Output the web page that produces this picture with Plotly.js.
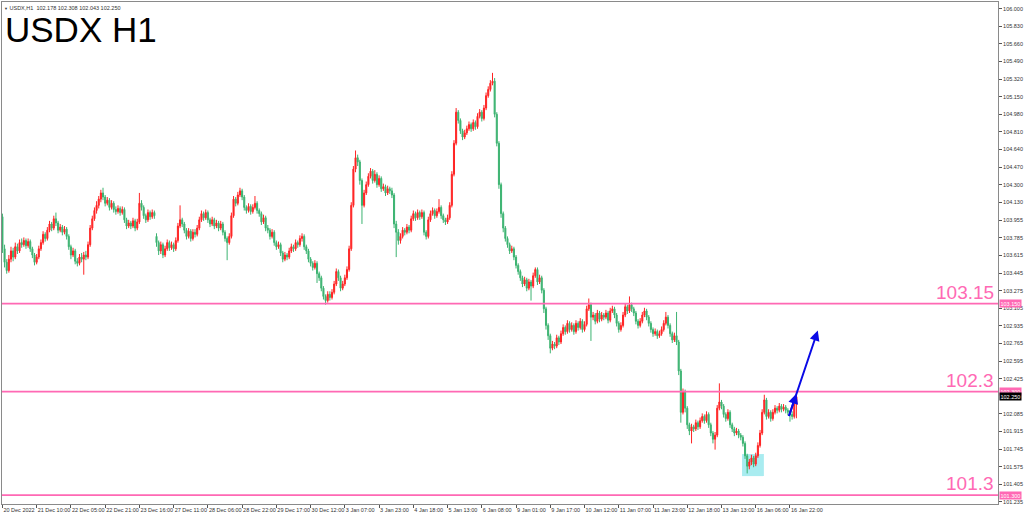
<!DOCTYPE html>
<html>
<head>
<meta charset="utf-8">
<script src="https://cdn.plot.ly/plotly-3.0.1.min.js"></script>
<style>html,body{margin:0;padding:0;background:#fff;}#chart{width:1024px;height:516px;}</style>
</head>
<body>
<div id="chart"></div>
<script>
// ---- Data (USDX H1 candles) ----
const openP = [
103.99,103.68,103.55,103.47,103.58,103.66,103.60,103.70,103.66,103.74,
103.72,103.76,103.71,103.75,103.68,103.62,103.55,103.60,103.68,103.74,
103.82,103.78,103.86,103.92,103.88,103.97,103.93,103.86,103.89,103.84,
103.87,103.80,103.70,103.62,103.66,103.56,103.54,103.60,103.58,103.62,
103.60,103.72,103.88,103.97,104.05,104.10,104.16,104.22,104.18,104.12,
104.15,104.08,104.12,104.06,104.04,104.07,104.03,104.06,103.96,103.90,
103.93,103.90,103.95,103.88,103.94,104.12,104.08,104.00,103.96,104.03,
103.99,104.03,103.80,103.74,103.66,103.72,103.62,103.68,103.74,103.69,
103.72,103.68,103.76,103.90,103.96,103.92,103.86,103.80,103.85,103.78,
103.84,103.82,103.88,103.96,104.02,103.98,104.03,103.96,103.92,103.96,
103.90,103.93,103.88,103.92,103.84,103.78,103.74,103.80,104.00,104.16,
104.12,104.20,104.24,104.18,104.08,104.05,104.09,104.04,104.08,104.12,
104.05,104.02,103.94,103.98,103.88,103.86,103.80,103.84,103.74,103.70,
103.72,103.64,103.58,103.62,103.60,103.66,103.70,103.68,103.74,103.72,
103.78,103.80,103.70,103.66,103.58,103.54,103.50,103.54,103.44,103.40,
103.30,103.22,103.18,103.24,103.21,103.26,103.34,103.46,103.40,103.30,
103.34,103.40,103.48,103.68,104.10,104.45,104.56,104.52,104.34,104.10,
104.22,104.30,104.38,104.43,104.34,104.40,104.30,104.36,104.26,104.28,
104.22,104.26,104.24,104.20,103.92,103.84,103.76,103.80,103.86,103.84,
103.89,103.86,103.97,104.02,103.98,104.03,103.99,104.03,103.84,103.80,
103.96,104.02,104.05,104.00,104.04,104.08,104.00,103.96,103.94,103.98,
104.10,104.40,104.70,105.00,104.92,104.82,104.76,104.80,104.84,104.88,
104.84,104.90,104.86,104.96,105.00,104.94,105.04,105.16,105.22,105.28,
105.30,104.98,104.70,104.30,104.02,103.88,103.78,103.72,103.66,103.68,
103.60,103.52,103.46,103.40,103.34,103.38,103.30,103.36,103.32,103.42,
103.48,103.36,103.40,103.28,103.10,102.94,102.84,102.72,102.76,102.74,
102.82,102.78,102.86,102.92,102.88,102.96,102.90,102.94,102.88,102.96,
102.92,102.98,102.90,102.95,103.10,103.14,103.02,103.04,102.98,103.06,
103.00,103.04,103.02,103.06,102.99,103.08,103.10,103.04,102.96,102.90,
102.94,103.04,103.12,103.08,103.14,103.10,103.06,102.98,102.94,102.98,
103.04,103.08,103.02,102.96,102.90,102.86,102.88,102.84,102.86,102.90,
102.96,103.02,102.94,102.86,102.80,102.84,102.78,102.50,102.10,102.30,
102.14,101.98,101.92,101.96,101.94,102.00,101.96,102.02,102.06,102.02,
102.08,101.98,101.90,101.84,101.88,102.14,102.20,102.16,102.08,102.04,
102.10,101.98,101.94,101.90,101.92,101.88,101.86,101.80,101.68,101.58,
101.62,101.66,101.60,101.68,101.78,101.90,102.10,102.22,102.06,102.10,
102.04,102.10,102.14,102.12,102.16,102.13,102.15,102.12,102.10,102.08,
102.06,102.178
];
const highP = [
104.02,103.72,103.58,103.62,103.70,103.69,103.74,103.73,103.77,103.78,
103.79,103.78,103.78,103.77,103.70,103.64,103.63,103.71,103.77,103.85,
103.84,103.89,103.95,103.94,104.00,104.03,103.95,103.92,103.91,103.90,
103.89,103.82,103.72,103.69,103.68,103.59,103.63,103.64,103.65,103.66,
103.75,103.91,104.00,104.08,104.14,104.19,104.25,104.27,104.20,104.18,
104.17,104.15,104.14,104.09,104.10,104.09,104.09,104.08,103.98,103.96,
103.95,103.98,103.97,103.97,104.22,104.15,104.10,104.02,104.06,104.05,
104.06,104.05,103.83,103.76,103.75,103.74,103.71,103.77,103.76,103.75,
103.74,103.79,103.93,104.10,103.98,103.94,103.88,103.88,103.87,103.87,
103.87,103.91,103.99,104.05,104.04,104.06,104.05,103.98,103.99,103.98,
103.96,103.95,103.95,103.94,103.86,103.80,103.83,104.03,104.19,104.18,
104.23,104.27,104.26,104.20,104.10,104.12,104.11,104.11,104.19,104.14,
104.07,104.04,104.01,104.00,103.91,103.88,103.87,103.86,103.76,103.75,
103.74,103.66,103.65,103.64,103.69,103.73,103.72,103.77,103.76,103.81,
103.83,103.82,103.72,103.68,103.60,103.56,103.57,103.56,103.46,103.42,
103.32,103.24,103.27,103.27,103.29,103.37,103.49,103.48,103.42,103.37,
103.43,103.51,103.71,104.13,104.48,104.63,104.59,104.54,104.36,104.25,
104.33,104.41,104.46,104.45,104.44,104.42,104.39,104.38,104.31,104.30,
104.29,104.28,104.27,104.22,103.95,103.87,103.83,103.89,103.88,103.92,
103.91,104.00,104.05,104.04,104.06,104.05,104.06,104.05,103.86,103.99,
104.05,104.08,104.07,104.07,104.16,104.10,104.02,103.98,104.01,104.13,
104.43,104.73,105.04,105.02,104.94,104.84,104.83,104.87,104.91,104.90,
104.93,104.92,104.99,105.03,105.02,105.07,105.19,105.25,105.31,105.38,
105.33,105.00,104.72,104.32,104.04,103.90,103.80,103.74,103.71,103.70,
103.62,103.54,103.48,103.42,103.41,103.40,103.39,103.38,103.45,103.50,
103.50,103.43,103.42,103.30,103.12,102.96,102.86,102.79,102.78,102.85,
102.84,102.89,102.95,102.94,102.99,102.98,102.97,102.96,102.99,102.98,
103.01,103.00,102.98,103.13,103.20,103.16,103.07,103.06,103.09,103.08,
103.07,103.06,103.09,103.08,103.11,103.13,103.12,103.06,102.98,102.97,
103.07,103.15,103.14,103.22,103.16,103.12,103.08,103.00,103.01,103.07,
103.11,103.10,103.04,102.98,102.92,102.91,102.90,102.89,102.93,102.99,
103.07,103.04,102.96,102.88,102.87,103.07,102.80,102.52,102.33,102.32,
102.16,102.00,101.99,101.98,102.03,102.02,102.05,102.09,102.08,102.11,
102.10,102.00,101.92,101.91,102.17,102.38,102.22,102.18,102.10,102.13,
102.12,102.00,101.96,101.95,101.94,101.90,101.88,101.82,101.70,101.65,
101.69,101.68,101.71,101.81,101.93,102.13,102.27,102.24,102.13,102.12,
102.13,102.17,102.16,102.19,102.18,102.18,102.17,102.14,102.12,102.11,
102.20,102.308
];
const lowP = [
103.64,103.50,103.44,103.45,103.55,103.56,103.58,103.63,103.64,103.69,
103.70,103.68,103.69,103.65,103.59,103.52,103.53,103.58,103.66,103.72,
103.75,103.76,103.84,103.85,103.86,103.90,103.83,103.84,103.81,103.82,
103.77,103.67,103.58,103.60,103.53,103.51,103.52,103.55,103.43,103.57,
103.58,103.70,103.86,103.95,104.02,104.07,104.13,104.15,104.09,104.10,
104.05,104.06,104.03,104.01,104.02,104.00,104.01,103.93,103.87,103.88,
103.87,103.88,103.85,103.86,103.92,104.05,103.97,103.93,103.94,103.96,
103.97,103.97,103.70,103.62,103.63,103.59,103.60,103.66,103.66,103.67,
103.65,103.66,103.74,103.88,103.89,103.83,103.77,103.78,103.75,103.76,
103.79,103.80,103.86,103.94,103.95,103.96,103.93,103.89,103.90,103.87,
103.88,103.85,103.86,103.81,103.75,103.57,103.72,103.78,103.98,104.09,
104.10,104.18,104.15,104.05,104.02,104.03,104.01,104.02,104.06,104.02,
103.99,103.91,103.92,103.85,103.83,103.77,103.78,103.71,103.67,103.68,
103.61,103.55,103.56,103.57,103.58,103.64,103.65,103.66,103.69,103.70,
103.75,103.67,103.63,103.55,103.51,103.47,103.48,103.35,103.37,103.27,
103.19,103.14,103.16,103.18,103.19,103.24,103.32,103.37,103.27,103.28,
103.32,103.38,103.46,103.66,104.08,104.42,104.48,104.30,103.92,104.08,
104.20,104.28,104.36,104.31,104.32,104.27,104.28,104.23,104.24,104.19,
104.20,104.21,104.17,103.88,103.60,103.72,103.73,103.78,103.81,103.82,
103.83,103.84,103.95,103.95,103.96,103.96,103.97,103.81,103.77,103.78,
103.94,104.00,103.97,103.98,104.02,103.97,103.93,103.91,103.92,103.96,
104.08,104.38,104.68,104.89,104.79,104.73,104.74,104.78,104.82,104.81,
104.82,104.83,104.84,104.94,104.91,104.92,105.02,105.14,105.20,105.26,
104.95,104.67,104.26,103.98,103.84,103.75,103.69,103.63,103.64,103.57,
103.49,103.43,103.37,103.31,103.32,103.27,103.28,103.18,103.30,103.40,
103.33,103.34,103.25,103.06,102.90,102.80,102.67,102.70,102.71,102.72,
102.75,102.76,102.84,102.85,102.86,102.87,102.88,102.85,102.86,102.89,
102.90,102.87,102.88,102.93,103.08,102.79,102.99,102.95,102.96,102.97,
102.98,102.99,103.00,102.96,102.97,103.06,103.01,102.93,102.87,102.88,
102.92,103.02,103.05,103.06,103.07,103.03,102.95,102.91,102.92,102.96,
103.02,102.99,102.93,102.87,102.83,102.84,102.81,102.82,102.84,102.88,
102.94,102.91,102.83,102.77,102.78,102.75,102.46,102.00,102.08,102.10,
101.94,101.88,101.80,101.91,101.92,101.93,101.94,102.00,101.99,102.00,
101.95,101.87,101.80,101.74,101.86,102.12,102.13,102.05,102.01,102.02,
101.95,101.91,101.87,101.88,101.85,101.83,101.77,101.65,101.51,101.55,
101.59,101.57,101.58,101.66,101.76,101.88,102.08,102.03,102.04,102.01,
102.02,102.08,102.09,102.10,102.10,102.11,102.09,102.07,102.01,102.03,
102.04,102.043
];
const closeP = [
103.68,103.55,103.47,103.58,103.66,103.60,103.70,103.66,103.74,103.72,
103.76,103.71,103.75,103.68,103.62,103.55,103.60,103.68,103.74,103.82,
103.78,103.86,103.92,103.88,103.97,103.93,103.86,103.89,103.84,103.87,
103.80,103.70,103.62,103.66,103.56,103.54,103.60,103.58,103.62,103.60,
103.72,103.88,103.97,104.05,104.10,104.16,104.22,104.18,104.12,104.15,
104.08,104.12,104.06,104.04,104.07,104.03,104.06,103.96,103.90,103.93,
103.90,103.95,103.88,103.94,104.12,104.08,104.00,103.96,104.03,103.99,
104.03,104.00,103.74,103.66,103.72,103.62,103.68,103.74,103.69,103.72,
103.68,103.76,103.90,103.96,103.92,103.86,103.80,103.85,103.78,103.84,
103.82,103.88,103.96,104.02,103.98,104.03,103.96,103.92,103.96,103.90,
103.93,103.88,103.92,103.84,103.78,103.74,103.80,104.00,104.16,104.12,
104.20,104.24,104.18,104.08,104.05,104.09,104.04,104.08,104.12,104.05,
104.02,103.94,103.98,103.88,103.86,103.80,103.84,103.74,103.70,103.72,
103.64,103.58,103.62,103.60,103.66,103.70,103.68,103.74,103.72,103.78,
103.80,103.70,103.66,103.58,103.54,103.50,103.54,103.44,103.40,103.30,
103.22,103.18,103.24,103.21,103.26,103.34,103.46,103.40,103.30,103.34,
103.40,103.48,103.68,104.10,104.45,104.56,104.52,104.34,104.10,104.22,
104.30,104.38,104.43,104.34,104.40,104.30,104.36,104.26,104.28,104.22,
104.26,104.24,104.20,103.92,103.84,103.76,103.80,103.86,103.84,103.89,
103.86,103.97,104.02,103.98,104.03,103.99,104.03,103.84,103.80,103.96,
104.02,104.05,104.00,104.04,104.08,104.00,103.96,103.94,103.98,104.10,
104.40,104.70,105.00,104.92,104.82,104.76,104.80,104.84,104.88,104.84,
104.90,104.86,104.96,105.00,104.94,105.04,105.16,105.22,105.28,105.30,
104.98,104.70,104.30,104.02,103.88,103.78,103.72,103.66,103.68,103.60,
103.52,103.46,103.40,103.34,103.38,103.30,103.36,103.32,103.42,103.48,
103.36,103.40,103.28,103.10,102.94,102.84,102.72,102.76,102.74,102.82,
102.78,102.86,102.92,102.88,102.96,102.90,102.94,102.88,102.96,102.92,
102.98,102.90,102.95,103.10,103.14,103.02,103.04,102.98,103.06,103.00,
103.04,103.02,103.06,102.99,103.08,103.10,103.04,102.96,102.90,102.94,
103.04,103.12,103.08,103.14,103.10,103.06,102.98,102.94,102.98,103.04,
103.08,103.02,102.96,102.90,102.86,102.88,102.84,102.86,102.90,102.96,
103.02,102.94,102.86,102.80,102.84,102.78,102.50,102.10,102.30,102.14,
101.98,101.92,101.96,101.94,102.00,101.96,102.02,102.06,102.02,102.08,
101.98,101.90,101.84,101.88,102.14,102.20,102.16,102.08,102.04,102.10,
101.98,101.94,101.90,101.92,101.88,101.86,101.80,101.68,101.58,101.62,
101.66,101.60,101.68,101.78,101.90,102.10,102.22,102.06,102.10,102.04,
102.10,102.14,102.12,102.16,102.13,102.15,102.12,102.10,102.08,102.06,
102.178,102.25
];
const xTickLabels = ["20 Dec 2022","21 Dec 10:00","22 Dec 05:00","22 Dec 21:00","23 Dec 16:00","27 Dec 11:00",
  "28 Dec 06:00","28 Dec 22:00","29 Dec 17:00","30 Dec 12:00","3 Jan 07:00","3 Jan 23:00","4 Jan 18:00",
  "5 Jan 13:00","6 Jan 08:00","9 Jan 01:00","9 Jan 17:00","10 Jan 12:00","11 Jan 07:00","11 Jan 23:00",
  "12 Jan 18:00","13 Jan 13:00","16 Jan 06:00","16 Jan 22:00"];
const barsPerLabel = 16;
// 102.255 lies under the current-price box in the reference, so it is not listed
const yTickVals = [106.000,105.830,105.660,105.490,105.320,105.150,104.980,104.810,104.640,104.470,104.300,
  104.130,103.955,103.785,103.615,103.445,103.275,103.105,102.935,102.765,102.595,102.425,
  102.085,101.915,101.745,101.575,101.405,101.235];
const levels = [103.15, 102.30, 101.30];
const levelLabels = ["103.15", "102.3", "101.3"];
const lastPrice = 102.25;
const headerText = "USDX,H1  102.178 102.308 102.043 102.250";
const titleText = "USDX H1";
const boxZone = {x0: 345.6, x1: 355.8, y0: 101.484, y1: 101.697};
const arrowMain = {x0: 367.3, y0: 102.05, x1: 381.0, y1: 102.89};
const arrowSmall = {x0: 367.3, y0: 102.05, x1: 371.0, y1: 102.28};

// ---- Drawing ----
const xIdx = closeP.map((_, i) => i);
const tickVals = xTickLabels.map((_, k) => k * barsPerLabel);
const PINK = '#ff69b4';
const RED = '#ff2424';
const GREEN = '#3cb371';
const FONT = 'Liberation Sans, Arial, sans-serif';

const trace = {
  type: 'candlestick', x: xIdx, open: openP, high: highP, low: lowP, close: closeP,
  increasing: {line: {color: RED, width: 1}, fillcolor: RED},
  decreasing: {line: {color: GREEN, width: 1}, fillcolor: GREEN},
  whiskerwidth: 0, hoverinfo: 'skip', showlegend: false
};

const shapes = [
  {type: 'rect', xref: 'x', yref: 'y', x0: boxZone.x0, x1: boxZone.x1, y0: boxZone.y0, y1: boxZone.y1,
   fillcolor: '#a9ecf0', line: {width: 0}, layer: 'below'}
];
levels.forEach(v => shapes.push({type: 'line', xref: 'paper', yref: 'y', x0: 0, x1: 1, y0: v, y1: v,
  line: {color: PINK, width: 1.6}}));

const annotations = [
  {xref: 'paper', yref: 'paper', x: 0.0013, y: 0.989, xanchor: 'left', yanchor: 'top', showarrow: false,
   text: titleText, font: {family: FONT, size: 35, color: '#000'}},
  {xref: 'paper', yref: 'paper', x: 0.0, y: 0.9975, xanchor: 'left', yanchor: 'top', showarrow: false,
   text: '<span style="font-size:4px">▼</span> ' + headerText,
   font: {family: FONT, size: 5.5, color: '#333'}},
  {xref: 'x', yref: 'y', axref: 'x', ayref: 'y', x: arrowMain.x1, y: arrowMain.y1, ax: arrowMain.x0, ay: arrowMain.y0,
   showarrow: true, arrowhead: 2, arrowsize: 1, arrowwidth: 2, arrowcolor: '#0a0ae6', text: ''},
  {xref: 'x', yref: 'y', axref: 'x', ayref: 'y', x: arrowSmall.x1, y: arrowSmall.y1, ax: arrowSmall.x0, ay: arrowSmall.y0,
   showarrow: true, arrowhead: 2, arrowsize: 1, arrowwidth: 2, arrowcolor: '#0a0ae6', text: ''}
];
levels.forEach((v, k) => {
  annotations.push({xref: 'paper', yref: 'y', x: 0.9975, y: v, xanchor: 'right', yanchor: 'bottom', yshift: -1,
    showarrow: false, text: levelLabels[k], font: {family: FONT, size: 19, color: PINK}});
  annotations.push({xref: 'paper', yref: 'y', x: 1.001, y: v, xanchor: 'left', yanchor: 'middle', showarrow: false,
    text: v.toFixed(3), bgcolor: PINK, borderpad: 0.5,
    font: {family: FONT, size: 5.5, color: '#fff'}});
});
annotations.push({xref: 'paper', yref: 'y', x: 1.001, y: lastPrice, xanchor: 'left', yanchor: 'middle', showarrow: false,
  text: lastPrice.toFixed(3), bgcolor: '#000', borderpad: 0.5,
  font: {family: FONT, size: 5.5, color: '#fff'}});

const layout = {
  width: 1024, height: 516,
  margin: {l: 2, r: 26, t: 2, b: 12, pad: 0},
  paper_bgcolor: '#ffffff', plot_bgcolor: '#ffffff',
  showlegend: false,
  xaxis: {
    range: [-0.2, 465.2], rangeslider: {visible: false}, showgrid: false, zeroline: false,
    showline: true, mirror: true, linecolor: '#8a8a8a', linewidth: 1,
    tickmode: 'array', tickvals: tickVals, ticktext: xTickLabels, tickangle: 0,
    ticks: 'outside', ticklen: 3, tickcolor: '#555', tickwidth: 1,
    ticklabelposition: 'outside right', automargin: false,
    tickfont: {family: FONT, size: 5.5, color: '#333'},
    fixedrange: true
  },
  yaxis: {
    side: 'right', range: [101.2145, 106.0647], showgrid: false, zeroline: false,
    showline: true, mirror: true, linecolor: '#8a8a8a', linewidth: 1,
    tickmode: 'array', tickvals: yTickVals, tickformat: '.3f',
    ticks: 'outside', ticklen: 3, tickcolor: '#555', tickwidth: 1, automargin: false,
    tickfont: {family: FONT, size: 5.5, color: '#333'},
    fixedrange: true
  },
  shapes: shapes,
  annotations: annotations
};

Plotly.newPlot('chart', [trace], layout, {staticPlot: true, displayModeBar: false});
</script>
</body>
</html>
